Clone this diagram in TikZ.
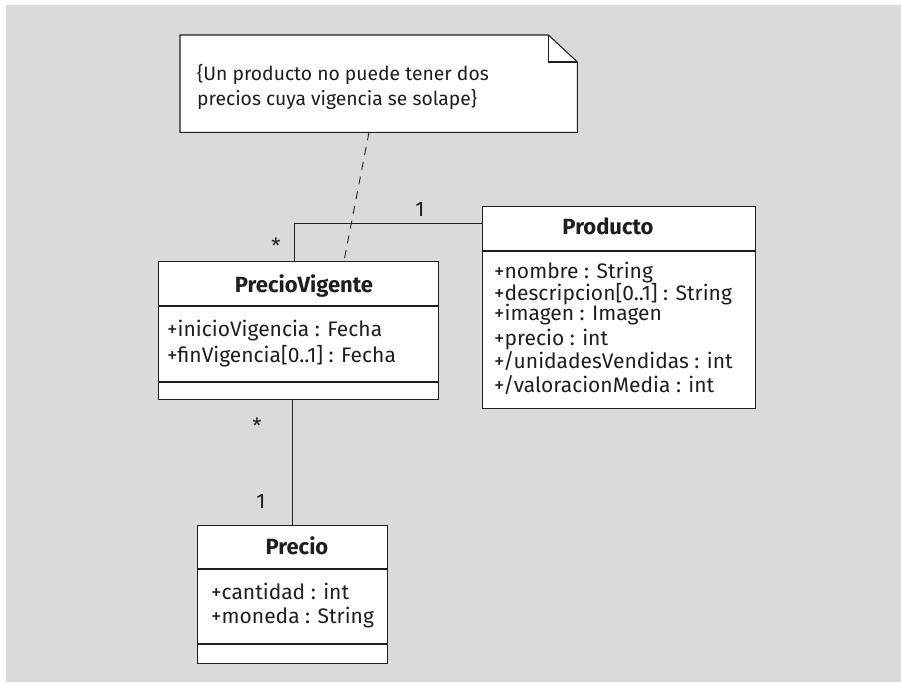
\documentclass[tikz,border=0pt]{standalone}
\usepackage{fontspec}
\setmainfont{Fira Sans}
\usetikzlibrary{calc}
\definecolor{panel}{RGB}{218,218,218}
\definecolor{ink}{RGB}{30,30,30}
\begin{document}
\begin{tikzpicture}[x=1pt,y=-1pt,
  every node/.style={font=\fontsize{21}{25}\selectfont, text=ink},
  classbox/.style={draw=ink, fill=white, line width=1.3pt, inner sep=0pt, anchor=north west},
  divider/.style={draw=ink, line width=1.1pt},
  title/.style={anchor=base, font=\fontsize{22}{25}\selectfont\bfseries, inner sep=0pt},
  attr/.style={anchor=base west, inner sep=0pt},
  notetext/.style={anchor=base west, inner sep=0pt, font=\fontsize{19.3}{25}\selectfont},
  mult/.style={anchor=base, inner sep=0pt},
  assoc/.style={draw=ink, line width=0.9pt},
  anchorline/.style={draw=ink, line width=0.9pt, dash pattern=on 8pt off 7pt}]
\useasboundingbox (0,0) rectangle (901,682);
\fill[panel] (6,5) rectangle (901,682);

% constraint note with folded corner
\node[inner sep=0pt, minimum width=397pt, minimum height=97pt, anchor=north west] (note) at (180,35) {};
\draw[draw=ink, fill=white, line width=1.1pt] (note.south west) -- (note.north west)
  -- ($(note.north east)+(-29,0)$) -- ($(note.north east)+(0,27)$)
  -- (note.south east) -- cycle;
\draw[draw=ink, line width=1.1pt] ($(note.north east)+(-29,0)$) -- ($(note.north east)+(-29,27)$)
  -- ($(note.north east)+(0,27)$);
\node[notetext] (notel1) at (197,81) {\{Un producto no puede tener dos};
\node[notetext] (notel2) at (197,106) {precios cuya vigencia se solape\}};

% class PrecioVigente
\node[classbox, minimum width=280pt, minimum height=138pt] (pv) at (158,261) {};
\draw[divider] (158,306) -- (438,306);
\draw[divider] (158,382) -- (438,382);
\node[title] (pvname) at (304,292) {PrecioVigente};
\node[attr] (pva1) at (167,336) {+inicioVigencia : Fecha};
\node[attr] (pva2) at (167,362) {+finVigencia[0..1] : Fecha};

% class Producto
\node[classbox, minimum width=273pt, minimum height=202pt] (prod) at (482,206) {};
\draw[divider] (482,251) -- (755,251);
\node[title] (prodname) at (608,234) {Producto};
\node[attr] (pa1) at (494,278) {+nombre : String};
\node[attr] (pa2) at (494,300) {+descripcion[0..1] : String};
\node[attr] (pa3) at (494,320) {+imagen : Imagen};
\node[attr] (pa4) at (494,345) {+precio : int};
\node[attr] (pa5) at (494,368) {+/unidadesVendidas : int};
\node[attr] (pa6) at (494,392) {+/valoracionMedia : int};

% class Precio
\node[classbox, minimum width=190pt, minimum height=138pt] (pr) at (197,525) {};
\draw[divider] (197,569) -- (387,569);
\draw[divider] (197,644) -- (387,644);
\node[title] (prname) at (297,554) {Precio};
\node[attr] (pra1) at (211,599) {+cantidad : int};
\node[attr] (pra2) at (211,623) {+moneda : String};

% associations
\draw[assoc] ($(pv.north west)+(136,0)$) |- ($(prod.north west)+(0,17)$);
\draw[assoc] ($(pv.south west)+(134,0)$) -- ($(pr.north west)+(95,0)$);
\draw[anchorline] ($(note.south west)+(189,0)$) -- ($(pv.north west)+(186,0)$);

% multiplicities
\node[mult] (m1) at (420,216) {1};
\node[mult] (m2) at (276,253) {*};
\node[mult] (m3) at (257,433) {*};
\node[mult] (m4) at (261,508) {1};
\end{tikzpicture}
\end{document}
